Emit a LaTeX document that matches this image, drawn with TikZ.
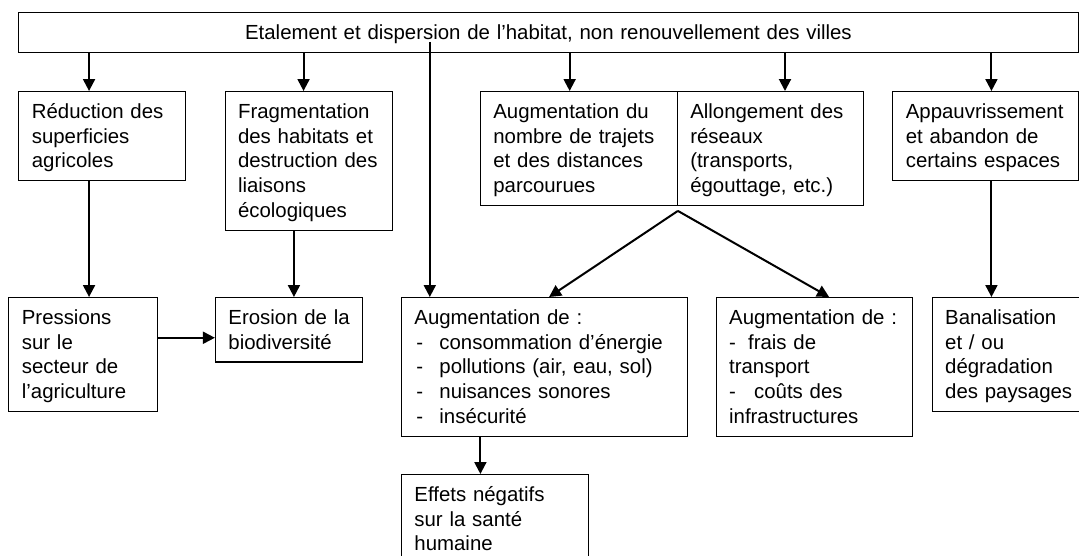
\documentclass[tikz,border=0pt]{standalone}
\usepackage{fontspec}
\setmainfont{Liberation Sans}
\usetikzlibrary{arrows.meta}

% strut giving every line of a box the same height
\newcommand{\bxs}{\leavevmode\vrule width 0pt height 19.5pt depth 5.2pt\relax}
\newcommand{\dsh}[1]{\makebox[#1][l]{-}}

\tikzset{
    bx/.style={draw, line width=1.1pt, anchor=north west, align=left,
        inner xsep=13pt, inner ysep=7.5pt,
        font=\fontsize{20.4}{24.7}\selectfont,
        execute at begin node=\bxs, execute at end node=\bxs},
    arr/.style={line width=2pt, -{Triangle[width=12pt,length=12pt]}}
}

\begin{document}
\begin{tikzpicture}[x=1pt, y=-1pt]
    \path[use as bounding box, clip] (0,0) rectangle (1079,555);

    % Top box
    \node[bx, align=center, text width=1033.2pt] (top) at (18.3,12)
        {Etalement et dispersion de l’habitat, non renouvellement des villes};

    % First row
    \node[bx, text width=141pt] (reduc) at (18.3,91)
        {Réduction des\\superficies\\agricoles};
    \node[bx, text width=141pt] (frag) at (224.5,91)
        {Fragmentation\\des habitats et\\destruction des\\liaisons\\écologiques};
    \node[bx, text width=171pt] (augdu) at (479.8,91)
        {Augmentation du\\nombre de trajets\\et des distances\\parcourues};
    \node[bx, text width=160.3pt] (allong) at (676.7,91)
        {Allongement des\\réseaux\\(transports,\\égouttage, etc.)};
    \node[bx, text width=159.2pt] (appauv) at (892.3,91)
        {Appauvrissement\\et abandon de\\certains espaces};

    % Second row
    \node[bx, text width=122.4pt] (press) at (8.3,297)
        {Pressions\\sur le\\secteur de\\l’agriculture};
    \node[bx, text width=121pt] (eros) at (214.9,297)
        {\mbox{Erosion de la}\\biodiversité};
    \node[bx, text width=260pt] (augde) at (400.9,297)
        {Augmentation de :\\\hspace*{2pt}\dsh{23pt}consommation d’énergie\\\hspace*{2pt}\dsh{23pt}pollutions (air, eau, sol)\\\hspace*{2pt}\dsh{23pt}nuisances sonores\\\hspace*{2pt}\dsh{23pt}insécurité};
    \node[bx, text width=170.7pt] (frais) at (715.6,297)
        {Augmentation de :\\\dsh{19pt}frais de\\transport\\\dsh{25pt}coûts des\\infrastructures};
    \node[bx, text width=132pt] (banal) at (931.6,297)
        {Banalisation\\et / ou\\dégradation\\\mbox{des paysages}};

    % Third row
    \node[bx, text width=161.3pt] (effets) at (400.9,474)
        {Effets négatifs\\sur la santé\\humaine};

    % Arrows from the top box
    \draw[arr] ([xshift=-13.3pt]reduc.north |- top.south) -- ([xshift=-13.3pt]reduc.north);
    \draw[arr] ([xshift=-5pt]frag.north |- top.south) -- ([xshift=-5pt]frag.north);
    \draw[arr] ([xshift=-9.2pt]augdu.north |- top.south) -- ([xshift=-9.2pt]augdu.north);
    \draw[arr] ([xshift=14.6pt]allong.north |- top.south) -- ([xshift=14.6pt]allong.north);
    \draw[arr] ([xshift=6pt]appauv.north |- top.south) -- ([xshift=6pt]appauv.north);
    \draw[arr] ([xshift=28.9pt, yshift=11pt]augde.north west |- top.south) -- ([xshift=28.9pt]augde.north west);

    % Arrows down to the second row
    \draw[arr] ([xshift=-13.3pt]reduc.south) -- ([xshift=-13.3pt]reduc.south |- press.north);
    \draw[arr] ([xshift=-14.6pt]frag.south) -- ([xshift=-14.6pt]frag.south |- eros.north);
    \draw[arr] ([xshift=6pt]appauv.south) -- ([xshift=6pt]appauv.south |- banal.north);
    \draw[arr] ([yshift=-8pt]eros.west -| press.east) -- ([yshift=-8pt]eros.west);

    % Split from the two joined boxes
    \coordinate (apex) at ([yshift=-5pt]augdu.south east);
    \draw[arr] (apex) -- ([xshift=4.6pt]augde.north);
    \draw[arr] (apex) -- ([xshift=14.6pt]frais.north);

    % Health effects
    \draw[arr] ([xshift=79.5pt]augde.south west) -- ([xshift=79.5pt]augde.south west |- effets.north);
\end{tikzpicture}
\end{document}
